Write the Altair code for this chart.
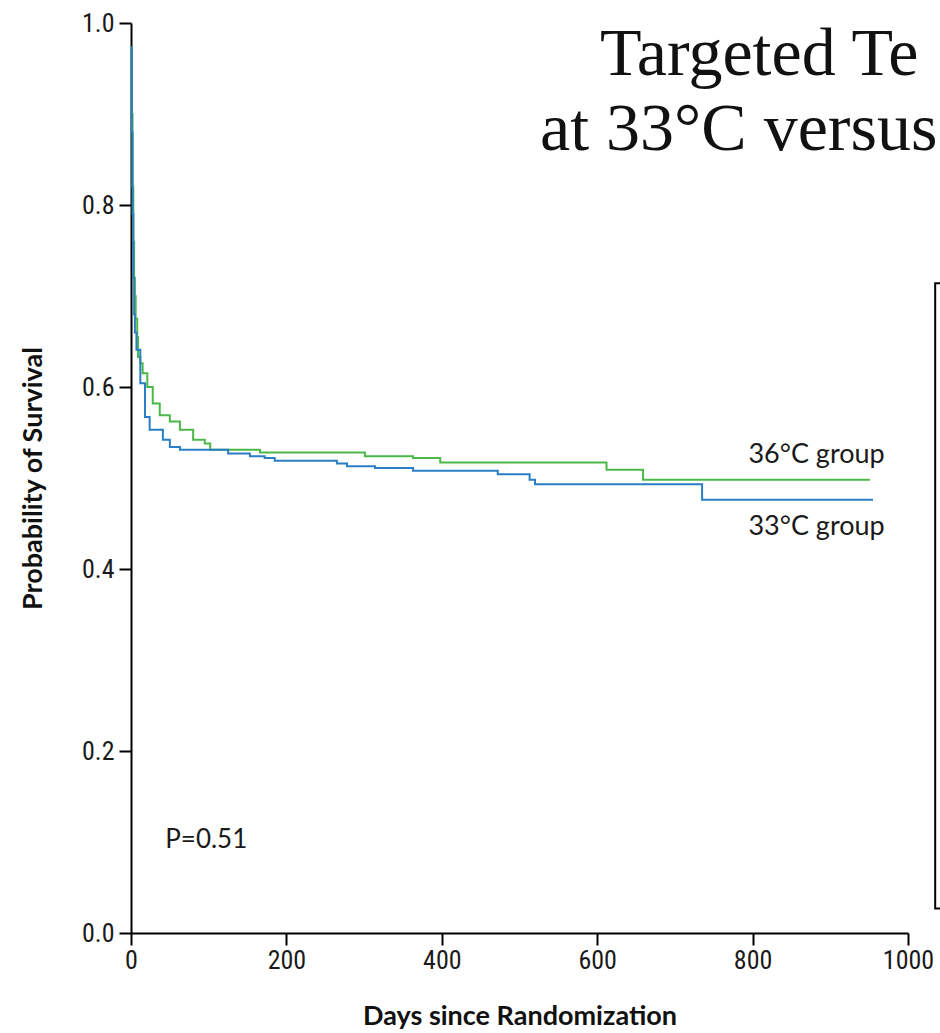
import altair as alt
import pandas as pd

# Kaplan-Meier steps (day, probability of survival)
days_36 = [0, 1, 2, 3, 4, 5, 6, 8, 9, 12, 15, 21, 28, 37, 50, 63, 80, 95, 102, 166, 301, 363, 398, 612, 659, 951]
surv_36 = [0.973, 0.90, 0.82, 0.76, 0.72, 0.70, 0.675, 0.655, 0.633, 0.626, 0.615, 0.600, 0.582, 0.569, 0.562,
           0.553, 0.542, 0.538, 0.531, 0.528, 0.524, 0.522, 0.517, 0.509, 0.498, 0.498]

days_33 = [0, 1, 2, 3, 4, 5, 7, 12, 18, 24, 41, 50, 63, 125, 153, 172, 185, 265, 278, 314, 363, 472, 513, 520, 735, 955]
surv_33 = [0.973, 0.88, 0.79, 0.72, 0.68, 0.66, 0.641, 0.604, 0.567, 0.553, 0.542, 0.534, 0.531, 0.527, 0.524,
           0.522, 0.519, 0.516, 0.513, 0.511, 0.508, 0.504, 0.498, 0.493, 0.476, 0.476]

groups = ["36°C group", "33°C group"]
colors = ["#4cb848", "#2a7fc4"]

x_ticks = [0, 200, 400, 600, 800, 1000]
y_ticks = [0.0, 0.2, 0.4, 0.6, 0.8, 1.0]

rows = []
for d, s in zip(days_36, surv_36):
    rows.append({"day": d, "surv": s, "group": groups[0]})
for d, s in zip(days_33, surv_33):
    rows.append({"day": d, "surv": s, "group": groups[1]})
df = pd.DataFrame(rows)

xs = alt.Scale(domain=[0, 1000], nice=False)
ys = alt.Scale(domain=[0, 1], nice=False)

narrow = "Roboto Condensed, Liberation Sans Narrow, Arial Narrow, Lato"

lines = alt.Chart(df).mark_line(interpolate="step-after", strokeWidth=2).encode(
    x=alt.X("day:Q", scale=xs,
            axis=alt.Axis(values=x_ticks, title="Days since Randomization", format="d",
                          titleY=83, titleBaseline="middle", labelPadding=2, labelFlush=False)),
    y=alt.Y("surv:Q", scale=ys,
            axis=alt.Axis(values=y_ticks, title="Probability of Survival", format=".1f",
                          titleX=-98, titleY=455, titleAngle=-90, titleBaseline="middle",
                          titleAlign="center", labelPadding=5, labelFlush=False)),
    color=alt.Color("group:N", scale=alt.Scale(domain=groups, range=colors), legend=None),
    detail="group:N",
)

# group labels
lab_df = pd.DataFrame({"day": [970, 970], "surv": [0.525, 0.446], "text": groups})
labels = alt.Chart(lab_df).mark_text(align="right", baseline="middle", font="Lato", fontSize=27,
                                     color="#1a1a1a").encode(
    x=alt.X("day:Q", scale=xs), y=alt.Y("surv:Q", scale=ys), text="text:N")

p_df = pd.DataFrame({"day": [44], "surv": [0.102], "text": ["P=0.51"]})
ptext = alt.Chart(p_df).mark_text(align="left", baseline="middle", font="Lato", fontSize=26,
                                  color="#1a1a1a").encode(
    x=alt.X("day:Q", scale=xs), y=alt.Y("surv:Q", scale=ys), text="text:N")

title_df = pd.DataFrame({"day": [603.6, 526.4], "surv": [0.943, 0.860],
                         "text": ["Targeted Te", "at 33°C versus"]})
title = alt.Chart(title_df).mark_text(align="left", baseline="alphabetic", font="Liberation Serif",
                                      fontSize=68, color="#111111").encode(
    x=alt.X("day:Q", scale=xs), y=alt.Y("surv:Q", scale=ys), text="text:N")

box_df = pd.DataFrame({"x1": [1035], "x2": [1200], "y1": [0.714], "y2": [0.027]})
box = alt.Chart(box_df).mark_rect(fill="white", fillOpacity=0, stroke="black", strokeWidth=2).encode(
    x=alt.X("x1:Q", scale=xs), x2="x2:Q", y=alt.Y("y1:Q", scale=ys), y2="y2:Q")

chart = alt.layer(box, lines, labels, ptext, title).properties(
    width=777, height=910,
    autosize=alt.AutoSizeParams(type="none"),
    padding={"left": 131, "top": 23, "right": 32, "bottom": 100},
).configure_view(stroke=None).configure_axis(
    grid=False, domainColor="black", domainWidth=2, tickColor="black", tickWidth=2, tickSize=12,
    labelFont=narrow, labelFontSize=26, labelColor="#1a1a1a",
    titleFont="Lato", titleFontSize=27, titleFontWeight="bold", titleColor="#111111",
)

chart.save("out.html", embed_options={"renderer": "svg", "actions": False})
